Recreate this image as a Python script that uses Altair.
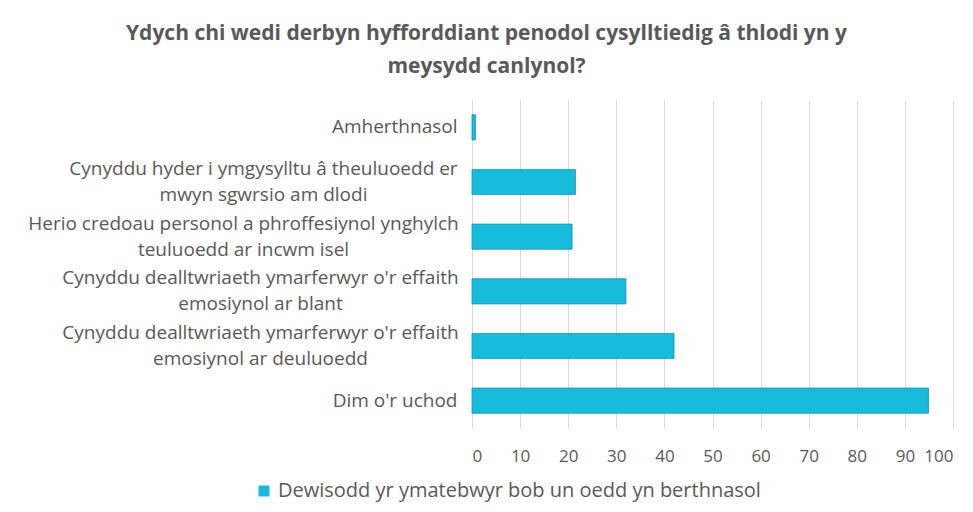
import altair as alt
import pandas as pd

categories = [
    "Amherthnasol",
    "Cynyddu hyder i ymgysylltu â theuluoedd er|mwyn sgwrsio am dlodi",
    "Herio credoau personol a phroffesiynol ynghylch|teuluoedd ar incwm isel",
    "Cynyddu dealltwriaeth ymarferwyr o'r effaith|emosiynol ar blant",
    "Cynyddu dealltwriaeth ymarferwyr o'r effaith|emosiynol ar deuluoedd",
    "Dim o'r uchod",
]
values = [0.7, 21.5, 20.8, 32, 42, 94.9]
series_name = "Dewisodd yr ymatebwyr bob un oedd yn berthnasol"
x_ticks = [0, 10, 20, 30, 40, 50, 60, 70, 80, 90, 100]
title_lines = [
    "Ydych chi wedi derbyn hyfforddiant penodol cysylltiedig â thlodi yn y",
    "meysydd canlynol?",
]

df = pd.DataFrame({"cat": categories, "val": values, "series": [series_name] * len(categories)})

FONT = "Open Sans"
GREY = "#595959"
BAR = "#17BBDB"

multi = "indexof(datum.value, '|') >= 0"

chart = (
    alt.Chart(df)
    .mark_bar(stroke="#1496B0", strokeWidth=0.8)
    .encode(
        x=alt.X(
            "val:Q",
            scale=alt.Scale(domain=[0, 100], nice=False),
            axis=alt.Axis(
                values=x_ticks,
                title=None,
                domain=False,
                ticks=False,
                grid=True,
                gridColor="#D9D9D9",
                gridWidth=1,
                labelFont=FONT,
                labelFontSize=17,
                labelColor=GREY,
                labelPadding=20,
            ),
        ),
        y=alt.Y(
            "cat:N",
            sort=categories,
            scale=alt.Scale(paddingInner=0.54, paddingOuter=0.27),
            axis=alt.Axis(
                title=None,
                domain=False,
                ticks=False,
                labelExpr="split(datum.label, '|')",
                labelFont=FONT,
                labelFontSize=19,
                labelColor=GREY,
                labelLineHeight=26,
                labelLimit=600,
                labelAlign={"condition": {"test": multi, "value": "center"}, "value": "right"},
                labelPadding={
                    "condition": [
                        {"test": "indexof(datum.value, 'Herio') == 0", "value": 229},
                        {"test": "indexof(datum.value, 'hyder') >= 0", "value": 209},
                        {"test": multi, "value": 212},
                    ],
                    "value": 15,
                },
                labelOffset={"condition": {"test": multi, "value": -13}, "value": 0},
            ),
        ),
        color=alt.Color(
            "series:N",
            scale=alt.Scale(range=[BAR]),
            legend=alt.Legend(
                title=None,
                orient="none",
                legendX=-218,
                legendY=381,
                symbolType="square",
                symbolSize=120,
                symbolStrokeWidth=0,
                labelFont=FONT,
                labelFontSize=20,
                labelColor=GREY,
                labelLimit=700,
            ),
        ),
    )
    .properties(
        width=481,
        height=328,
        autosize=alt.AutoSizeParams(type="none"),
        padding={"left": 464, "top": 92, "right": 12, "bottom": 76},
        title=alt.TitleParams(
            text=title_lines,
            anchor="middle",
            dx=-226,
            offset=23,
            font=FONT,
            fontSize=21,
            fontWeight="bold",
            color=GREY,
            lineHeight=33,
        ),
    )
    .configure_view(stroke=None)
)

chart.save("out.html", embed_options={"renderer": "svg", "actions": False})
